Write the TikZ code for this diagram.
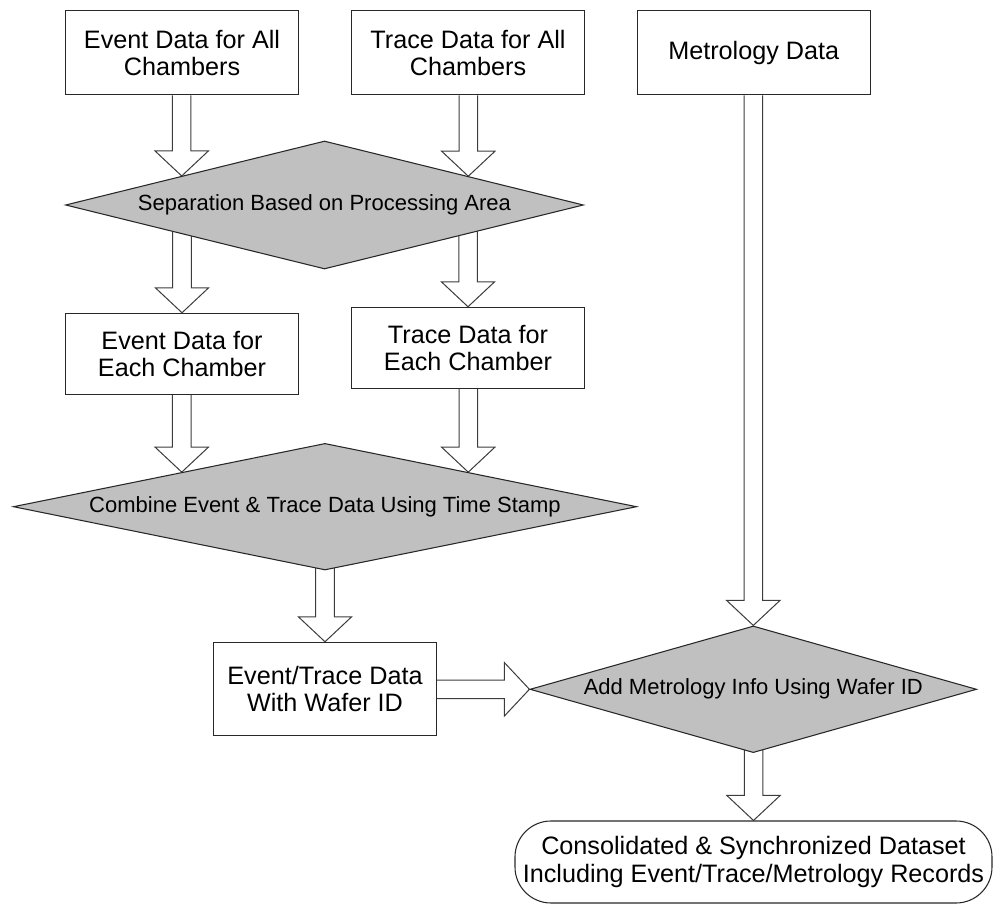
\documentclass[tikz,border=0pt]{standalone}
\usepackage{fontspec}
\setmainfont{Liberation Sans}
\usetikzlibrary{shapes.geometric,calc}

\pgfdeclarelayer{bg}
\pgfsetlayers{bg,main}

\definecolor{edgecol}{RGB}{40,40,40}
\definecolor{arrowcol}{RGB}{60,60,60}
\definecolor{decfill}{RGB}{192,192,192}

% hollow block arrow measures
\def\bashaft{6.94pt}
\def\bahead{20pt}
\def\balen{18.75pt}

% downward block arrow: shaft starts at the height of #1, tip at #2
\newcommand\blockdown[2]{%
  \draw[blockarrow] let \p1=(#1), \p2=(#2) in
    (\x2-\bashaft,\y1) -- (\x2-\bashaft,\y2+\balen) -- (\x2-\bahead,\y2+\balen)
    -- (\x2,\y2) -- (\x2+\bahead,\y2+\balen) -- (\x2+\bashaft,\y2+\balen)
    -- (\x2+\bashaft,\y1);}

% rightward block arrow: shaft starts at #1, tip at #2
\newcommand\blockright[2]{%
  \draw[blockarrow] let \p1=(#1), \p2=(#2) in
    (\x1,\y2+\bashaft) -- (\x2-\balen,\y2+\bashaft) -- (\x2-\balen,\y2+\bahead)
    -- (\x2,\y2) -- (\x2-\balen,\y2-\bahead) -- (\x2-\balen,\y2-\bashaft)
    -- (\x1,\y2-\bashaft);}

\tikzset{
  procbox/.style={draw=edgecol, line width=0.8pt, fill=white, align=center,
    inner sep=0pt, font=\fontsize{18.9}{20.5}\selectfont},
  decision/.style={diamond, draw=edgecol, line width=0.8pt, fill=decfill,
    aspect=5, inner sep=0pt, font=\fontsize{16.5}{19}\selectfont},
  terminal/.style={draw=edgecol, line width=0.8pt, fill=white, align=center,
    rounded corners=27pt, inner sep=0pt, font=\fontsize{18.9}{21.3}\selectfont},
  blockarrow/.style={draw=arrowcol, line width=0.75pt, fill=white, line join=miter}
}

\begin{document}
\begin{tikzpicture}[x=0.75pt, y=-0.75pt]
\useasboundingbox (0,0) rectangle (993,905);

% sources
\node[procbox, minimum width=174.45pt, minimum height=63.2pt] (evall) at (182,52.8)
  {Event Data for All\\Chambers};
\node[procbox, minimum width=174.45pt, minimum height=63.2pt] (trall) at (468,52.8)
  {Trace Data for All\\Chambers};
\node[procbox, minimum width=174.5pt, minimum height=63.2pt] (metro) at (753.7,52.8)
  {Metrology Data};

% separation step
\node[decision, minimum width=388.5pt, minimum height=96pt] (sep) at (324.5,205)
  {Separation Based on Processing Area};

\node[procbox, minimum width=174.45pt, minimum height=60.75pt] (evch) at (182,353.8)
  {Event Data for\\Each Chamber};
\node[procbox, minimum width=174.45pt, minimum height=60.75pt] (trch) at (468,347.8)
  {Trace Data for\\Each Chamber};

% combining step
\node[decision, minimum width=467.55pt, minimum height=94.95pt] (comb) at (325,506.7)
  {Combine Event \& Trace Data Using Time Stamp};

\node[procbox, minimum width=167.55pt, minimum height=70.05pt] (wafer) at (325,689)
  {Event/Trace Data\\With Wafer ID};

% metrology merge
\node[decision, minimum width=335pt, minimum height=95pt] (addm) at (753.3,689.3)
  {Add Metrology Info Using Wafer ID};

\node[terminal, minimum width=357.75pt, minimum height=61.5pt] (result) at (753.5,862)
  {Consolidated \& Synchronized Dataset\\Including Event/Trace/Metrology Records};

% block arrows, kept behind the shapes
\begin{pgfonlayer}{bg}
  \blockdown{evall.south}{$(sep.west)!0.4498!(sep.north)$}
  \blockdown{trall.south}{$(sep.east)!0.4459!(sep.north)$}
  \blockdown{sep.center}{evch.north}
  \blockdown{sep.center}{trch.north}
  \blockdown{evch.south}{$(comb.west)!0.5412!(comb.north)$}
  \blockdown{trch.south}{$(comb.east)!0.5412!(comb.north)$}
  \blockdown{comb.center}{wafer.north}
  \blockdown{metro.south}{addm.north}
  \blockright{wafer.east}{addm.west}
  \blockdown{addm.center}{result.north}
\end{pgfonlayer}
\end{tikzpicture}
\end{document}
